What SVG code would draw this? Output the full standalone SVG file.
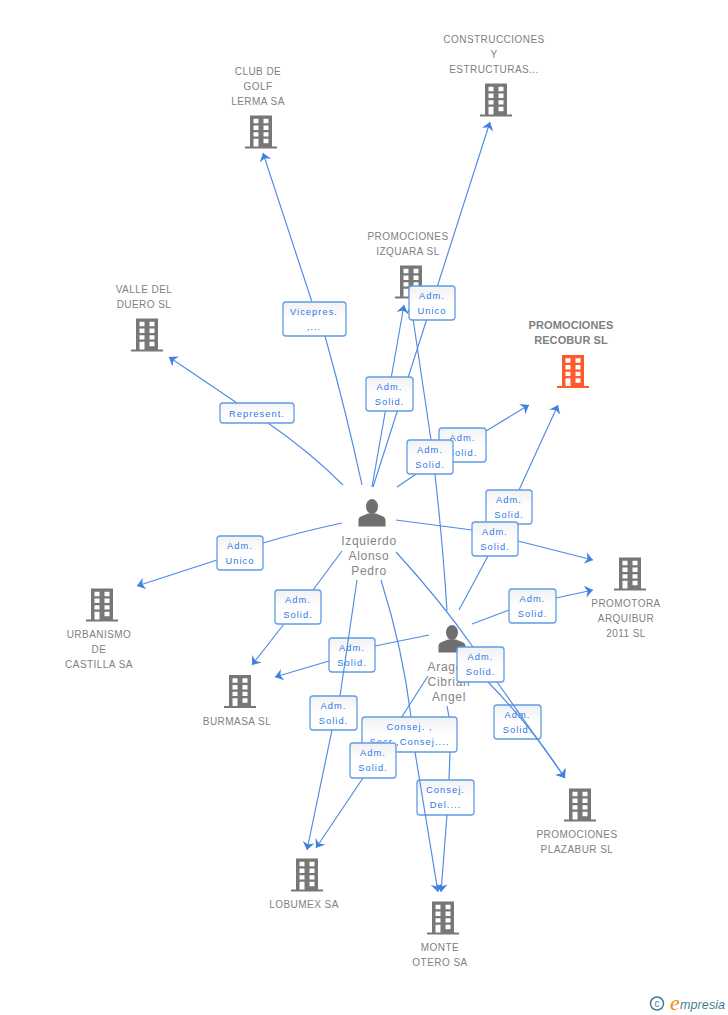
<svg xmlns="http://www.w3.org/2000/svg" width="728" height="1015" viewBox="0 0 728 1015">
<style>
text{font-family:"Liberation Sans",Arial,sans-serif}
.n{font-size:10px;fill:#808080;text-anchor:middle;letter-spacing:.45px}
.b{font-weight:bold;font-size:11px;fill:#7f7f7f;letter-spacing:.1px}
.p{font-size:12px;fill:#858585;text-anchor:middle;letter-spacing:.7px}
.l{fill:none;stroke:#4f8ae4;stroke-width:1.15}
.a{marker-end:url(#ah)}
.r{fill:url(#g);stroke:#5f9de9;stroke-width:1.3}
.t{font-size:9.300px;fill:#2f78e6;text-anchor:middle;letter-spacing:1.050px}
</style>
<defs>
<linearGradient id="g" x1="0" y1="0" x2="0" y2="1"><stop offset="0" stop-color="#f1f1f1"/><stop offset=".5" stop-color="#fff"/><stop offset="1" stop-color="#fff"/></linearGradient>
<marker id="ah" markerUnits="userSpaceOnUse" markerWidth="12" markerHeight="14" refX="8" refY="6" orient="auto"><path d="M8 6L0 0L2.500 6L0 12Z" fill="#3f80e0"/></marker>
<g id="bld">
<path fill-rule="evenodd" d="M-11 -16.500H11V14.500H16V16.500H-16V14.500H-11ZM-7.500 -13.200V-8.800H-2.500V-13.200ZM2.500 -13.200V-8.800H7.500V-13.200ZM-7.500 -6.500V-2.100H-2.500V-6.500ZM2.500 -6.500V-2.100H7.500V-6.500ZM-7.500 .2V4.600H-2.500V.2ZM2.500 .2V4.600H7.500V.2ZM-7.500 6.800V14.500H-2.500V6.800ZM2.500 6.800V11.300H7.500V6.800Z"/>
</g>
<g id="per" fill="#6f6f6f">
<ellipse cx="0" cy="-6.500" rx="6" ry="7.500"/>
<path d="M-13.500 13.500V7C-13.500 3 -8 2.500 -4 .5H4C8 2.500 13.500 3 13.500 7V13.500Z"/>
</g>
</defs>
<rect width="728" height="1015" fill="#fff"/>

<g id="connectors">
<path class="l a" d="M362 485Q347 415 325 336M312 302L263 153"/>
<g><rect class="r" x="283" y="302" width="63" height="34" rx="3"/><text class="t" x="314" y="315">Vicepres.</text><text class="t" x="314" y="330">,...</text></g>
<path class="l a" d="M343 485Q310 452 268 423M237 403L169 357"/>
<g><rect class="r" x="220" y="403" width="74" height="20" rx="3"/><text class="t" x="257" y="417">Represent.</text></g>
<path class="l a" d="M373 487L490 122"/>
<path class="l a" d="M372 487Q384 420 404 305"/>
<path class="l a" d="M447 611Q442 530 431 440L411 305"/>
<g><rect class="r" x="366" y="377" width="47" height="34" rx="3"/><text class="t" x="389.500" y="390">Adm.</text><text class="t" x="389.500" y="405">Solid.</text></g>
<path class="l a" d="M397 487L440 458M486 431L529 405"/>
<g><rect class="r" x="439" y="428" width="47" height="34" rx="3"/><text class="t" x="462.500" y="441">Adm.</text><text class="t" x="462.500" y="456">Solid.</text></g>
<g><rect class="r" x="407" y="440" width="46" height="34" rx="3"/><text class="t" x="430" y="453">Adm.</text><text class="t" x="430" y="468">Solid.</text></g>
<path class="l a" d="M459 610L488 556L519 490L558 405"/>
<g><rect class="r" x="486" y="490" width="46" height="34" rx="3"/><text class="t" x="509" y="503">Adm.</text><text class="t" x="509" y="518">Solid.</text></g>
<path class="l a" d="M396 520L472 530M518 541L593 560"/>
<g><rect class="r" x="472" y="522" width="46" height="34" rx="3"/><text class="t" x="495" y="535">Adm.</text><text class="t" x="495" y="550">Solid.</text></g>
<path class="l a" d="M472 624L509 610M556 598L593 590"/>
<g><rect class="r" x="509" y="589" width="47" height="34" rx="3"/><text class="t" x="532.500" y="602">Adm.</text><text class="t" x="532.500" y="617">Solid.</text></g>
<path class="l a" d="M342 523Q300 532 263 543M217 560L137 586"/>
<g><rect class="r" x="217" y="536" width="46" height="34" rx="3"/><text class="t" x="240" y="549">Adm.</text><text class="t" x="240" y="564">Unico</text></g>
<path class="l a" d="M342 551L313 590M284 624L252 665"/>
<g><rect class="r" x="275" y="590" width="46" height="34" rx="3"/><text class="t" x="298" y="603">Adm.</text><text class="t" x="298" y="618">Solid.</text></g>
<g><rect class="r" x="329" y="638" width="46" height="34" rx="3"/><text class="t" x="352" y="651">Adm.</text><text class="t" x="352" y="666">Solid.</text></g>
<path class="l a" d="M429 635L375 646M329 661L275 677"/>
<path class="l a" d="M357 580L340 696M332 730L307 850"/>
<g><rect class="r" x="310" y="696" width="47" height="34" rx="3"/><text class="t" x="333.500" y="709">Adm.</text><text class="t" x="333.500" y="724">Solid.</text></g>
<g><rect class="r" x="494" y="705" width="47" height="34" rx="3"/><text class="t" x="517.500" y="718">Adm.</text><text class="t" x="517.500" y="733">Solid.</text></g>
<path class="l" d="M396 552Q440 600 473 647"/>
<path class="l a" d="M488 682Q530 725 565 778"/>
<path class="l a" d="M497 682L565 778"/>
<path class="l" d="M381 580Q403 650 411 717"/>
<path class="l" d="M447 706L449 717"/>
<path class="l" d="M428 676L387 740"/>
<g><rect class="r" x="362" y="717" width="95" height="35" rx="3"/><text class="t" x="409.500" y="730">Consej. ,</text><text class="t" x="409.500" y="745">Secr.,Consej....</text></g>
<path class="l" d="M450 752L449 780"/>
<g><rect class="r" x="417" y="780" width="57" height="35" rx="3"/><text class="t" x="445.500" y="793">Consej.</text><text class="t" x="445.500" y="808">Del....</text></g>
<path class="l a" d="M415 752L438 892"/>
<path class="l a" d="M447 815L441 892"/>
<path class="l a" d="M363 778L316 848"/>
<g><rect class="r" x="350" y="743" width="46" height="35" rx="3"/><text class="t" x="373" y="756">Adm.</text><text class="t" x="373" y="771">Solid.</text></g>
</g>

<g id="n-club"><use href="#bld" x="261" y="132" fill="#777"/><text class="n" x="258" y="75">CLUB DE</text><text class="n" x="258" y="90">GOLF</text><text class="n" x="258" y="105">LERMA SA</text></g>
<g id="n-constr"><use href="#bld" x="496" y="100" fill="#777"/><text class="n" x="494" y="43">CONSTRUCCIONES</text><text class="n" x="494" y="58">Y</text><text class="n" x="494" y="73">ESTRUCTURAS...</text></g>
<g id="n-valle"><use href="#bld" x="147" y="335" fill="#777"/><text class="n" x="144" y="293">VALLE DEL</text><text class="n" x="144" y="308">DUERO SL</text></g>
<g id="n-recobur"><use href="#bld" x="573" y="371.500" fill="#ff5a2c"/><text class="n b" x="571" y="329">PROMOCIONES</text><text class="n b" x="571" y="344">RECOBUR SL</text></g>
<g id="n-promotora"><use href="#bld" x="630" y="574" fill="#777"/><text class="n" x="626" y="607">PROMOTORA</text><text class="n" x="626" y="622">ARQUIBUR</text><text class="n" x="626" y="637">2011 SL</text></g>
<g id="n-urban"><use href="#bld" x="102" y="605" fill="#777"/><text class="n" x="99" y="638">URBANISMO</text><text class="n" x="99" y="653">DE</text><text class="n" x="99" y="668">CASTILLA SA</text></g>
<g id="n-burmasa"><use href="#bld" x="240" y="691.500" fill="#777"/><text class="n" x="237" y="725">BURMASA SL</text></g>
<g id="n-lobumex"><use href="#bld" x="307" y="875" fill="#777"/><text class="n" x="304" y="908">LOBUMEX SA</text></g>
<g id="n-monte"><use href="#bld" x="443" y="918" fill="#777"/><text class="n" x="440" y="951">MONTE</text><text class="n" x="440" y="966">OTERO SA</text></g>
<g id="n-plazabur"><use href="#bld" x="580" y="805" fill="#777"/><text class="n" x="577" y="838">PROMOCIONES</text><text class="n" x="577" y="853">PLAZABUR SL</text></g>
<g id="n-izquara"><use href="#bld" x="411" y="282" fill="#777"/><text class="n" x="408" y="240">PROMOCIONES</text><text class="n" x="408" y="255">IZQUARA SL</text></g>
<g id="lab-unico"><rect class="r" x="409" y="286" width="46" height="34" rx="3"/><text class="t" x="432" y="299">Adm.</text><text class="t" x="432" y="314">Unico</text></g>
<g id="n-izq"><use href="#per" x="372" y="513"/><text class="p" x="369" y="545">Izquierdo</text><text class="p" x="369" y="560">Alonso</text><text class="p" x="369" y="575">Pedro</text></g>
<g id="n-aragon"><use href="#per" x="452" y="639"/><text class="p" x="449" y="671">Aragon</text><text class="p" x="449" y="686">Cibrian</text><text class="p" x="449" y="701">Angel</text></g>
<g id="lab-ar"><rect class="r" x="457" y="647" width="47" height="35" rx="3"/><text class="t" x="480.500" y="660">Adm.</text><text class="t" x="480.500" y="675">Solid.</text></g>
<g id="logo"><circle cx="657" cy="1003.500" r="6.500" fill="none" stroke="#3f7f95" stroke-width="1.500"/><text x="657" y="1007" font-size="10" fill="#3f7f95" text-anchor="middle">c</text><text x="670" y="1010" font-size="22" font-style="italic" fill="#f08a1d" style="font-family:'Liberation Serif',serif">e</text><text x="680" y="1009" font-size="12.500" font-style="italic" fill="#3f7f95" letter-spacing=".1">mpresia</text></g>
</svg>
